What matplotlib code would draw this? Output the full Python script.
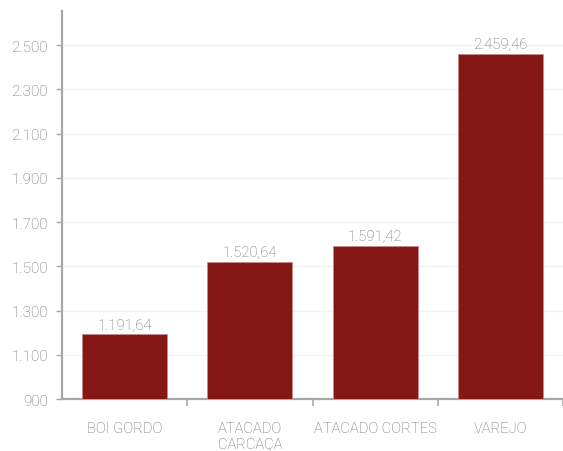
import matplotlib
matplotlib.use("Agg")
import matplotlib.pyplot as plt
import matplotlib.ticker as mticker

categories = ["BOI GORDO", "ATACADO\nCARCAÇA", "ATACADO CORTES", "VAREJO"]
values = [1191.64, 1520.64, 1591.42, 2459.46]
yticks = [900, 1100, 1300, 1500, 1700, 1900, 2100, 2300, 2500]

def fmt_thousands(v):
    s = f"{int(round(v)):,}".replace(",", ".")
    return s

def fmt_value(v):
    s = f"{v:,.2f}"
    return s.replace(",", "X").replace(".", ",").replace("X", ".")

plt.rcParams['font.family'] = ['Roboto', 'DejaVu Sans']
plt.rcParams['font.weight'] = 'light'

fig = plt.figure(figsize=(5.63, 4.52), dpi=100)
ax = fig.add_axes([62/563, 1 - 400/452, 1 - 62/563, (400 - 12)/452])

x = list(range(len(categories)))
bars = ax.bar(x, values, width=0.68, bottom=0, color="#851814",
              edgecolor="#c98a88", linewidth=0.6, zorder=3)
ax.set_ylim(900, 2654)
ax.set_xlim(-0.5, -0.5 + (563 - 62) / 126.7)

for xi, v in zip(x, values):
    ax.text(xi, v + 12, fmt_value(v), ha="center", va="bottom",
            fontsize=10.6, color="#6b6b6b", fontweight="light")

ax.set_yticks(yticks)
ax.yaxis.set_major_formatter(mticker.FuncFormatter(lambda v, p: fmt_thousands(v)))
ax.tick_params(axis="y", labelsize=11, labelcolor="#6b6b6b", color="#a8a8a8",
               length=4, width=1, pad=6)
ax.grid(axis="y", color="#f3f3f3", linewidth=1, zorder=0)

# category labels and boundary ticks
ax.set_xticks([i + 0.5 for i in range(len(categories))])
ax.tick_params(axis="x", which="major", labelbottom=False, color="#a8a8a8",
               length=5, width=1.2, direction="out")
ax.set_xticks(x, minor=True)
ax.set_xticklabels(categories, minor=True)
ax.tick_params(axis="x", which="minor", length=0, labelsize=10.6,
               labelcolor="#6b6b6b", pad=16)

for side in ["top", "right"]:
    ax.spines[side].set_visible(False)
for side in ["left", "bottom"]:
    ax.spines[side].set_color("#a8a8a8")
    ax.spines[side].set_linewidth(1.6)

fig.savefig("out.png", dpi=100)
